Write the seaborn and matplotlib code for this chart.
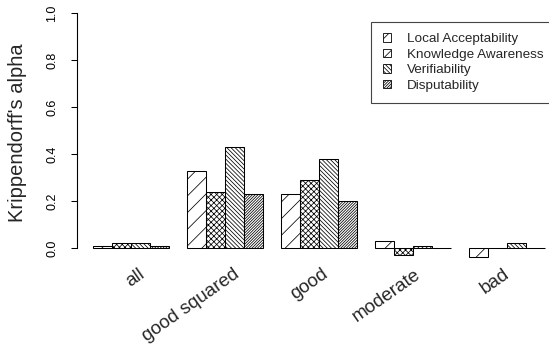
import numpy as np
import pandas as pd
import matplotlib
matplotlib.use("Agg")
import matplotlib.pyplot as plt
from matplotlib.patches import Patch
from matplotlib.transforms import ScaledTranslation
import seaborn as sns

# Agreement per subset and annotation dimension
groups = ["all", "good squared", "good", "moderate", "bad"]
measures = ["Local Acceptability", "Knowledge Awareness", "Verifiability", "Disputability"]
local_acceptability = [0.01, 0.33, 0.23, 0.03, -0.04]
knowledge_awareness = [0.02, 0.24, 0.29, -0.03, 0.00]
verifiability = [0.02, 0.43, 0.38, 0.01, 0.02]
disputability = [0.01, 0.23, 0.20, 0.00, 0.00]
y_ticks = [0.0, 0.2, 0.4, 0.6, 0.8, 1.0]

series = [local_acceptability, knowledge_awareness, verifiability, disputability]
df = pd.DataFrame({
    "group": np.repeat([groups], len(measures), axis=0).ravel(),
    "measure": np.repeat(measures, len(groups)),
    "alpha": np.concatenate(series),
})

sns.set_style("white")
plt.rcParams["font.family"] = ["Liberation Sans", "DejaVu Sans"]
plt.rcParams["hatch.linewidth"] = 0.55

W, H = 549, 344
fig = plt.figure(figsize=(W / 100, H / 100), dpi=100)
ax = fig.add_axes([77 / W, 1 - 262.1 / H, 472 / W, 258.2 / H])

sns.barplot(data=df, x="group", y="alpha", hue="measure", order=groups,
            hue_order=measures, palette=["white"] * 4, saturation=1,
            edgecolor="black", linewidth=0.75, width=0.8, errorbar=None,
            legend=False, ax=ax)

hatches = ["//", "x" * 6, "\\" * 8, "/" * 12]
for cont, hatch in zip(ax.containers, hatches):
    for bar in cont:
        bar.set_hatch(hatch)

ax.set_xlim(-0.5745, 4.4468)
ax.set_ylim(-0.06, 1.04)

# y axis drawn only across the tick range
for side in ["top", "right", "bottom"]:
    ax.spines[side].set_visible(False)
ax.spines["left"].set_bounds(0, 1)
ax.spines["left"].set_linewidth(0.8)
ax.spines["left"].set_color("black")

ax.set_yticks(y_ticks)
ax.set_yticklabels([f"{t:.1f}" for t in y_ticks], rotation=90, va="center",
                   fontsize=9)
ax.tick_params(axis="y", length=4.5, width=0.75, pad=9, colors="black",
               left=True)

ax.set_xticks(range(len(groups)))
ax.set_xticklabels(groups, rotation=35, ha="right", va="center",
                   rotation_mode="anchor", fontsize=13.5)
ax.tick_params(axis="x", length=0, pad=7.5)
label_shift = [12, 13, 7, 5.5, 1]
for lab, dx in zip(ax.get_xticklabels(), label_shift):
    lab.set_transform(lab.get_transform() +
                      ScaledTranslation(dx / 100, 0, fig.dpi_scale_trans))

ax.set_xlabel("")
ax.set_ylabel("Krippendorff's alpha", fontsize=14.5, va="center")
ax.yaxis.set_label_coords(-0.127, 0.5)

handles = [Patch(facecolor="white", edgecolor="black", linewidth=0.6,
                 hatch=h) for h in ["///", "////", "\\" * 8, "/" * 12]]
leg = ax.legend(handles, measures, loc="upper right",
                bbox_to_anchor=(555 / W, 1 - 22 / H),
                bbox_transform=fig.transFigure, fontsize=9.7,
                handlelength=0.6, handleheight=0.6, handletextpad=1.2,
                labelspacing=0.25, borderpad=0.85, borderaxespad=0,
                fancybox=False, framealpha=1, edgecolor="#444444")
leg.get_frame().set_linewidth(0.8)

fig.savefig("out.png", dpi=100)
